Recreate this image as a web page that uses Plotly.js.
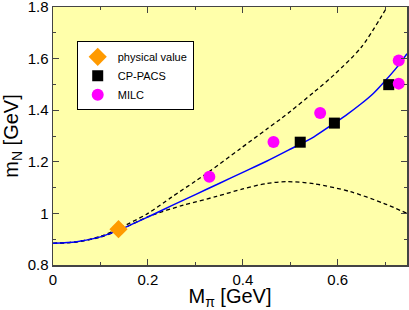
<!DOCTYPE html>
<html><head><meta charset="utf-8">
<script src="https://cdn.plot.ly/plotly-3.0.1.min.js"></script>
<style>html,body{margin:0;padding:0;background:#fff}#c{width:409px;height:310px}</style>
</head><body><div id="c"></div>
<script>
// data
const physX = [0.138];
const physY = [0.939];
const cppacsX = [0.521, 0.593, 0.7075];
const cppacsY = [1.276, 1.350, 1.499];
const milcX = [0.3295, 0.4646, 0.563, 0.7286, 0.7286];
const milcY = [1.142, 1.277, 1.389, 1.593, 1.503];
// fitted curve (solid blue)
const fitX = [0, 0.05, 0.1, 0.14, 0.2, 0.25, 0.3, 0.35, 0.4, 0.45, 0.496, 0.55, 0.593, 0.62, 0.648, 0.675, 0.70, 0.725, 0.746];
const fitY = [0.884, 0.890, 0.909, 0.936, 0.986, 1.030, 1.073, 1.116, 1.159, 1.202, 1.245, 1.297, 1.350, 1.384, 1.423, 1.465, 1.514, 1.567, 1.619];
// upper error band (dashed)
const upX = [0, 0.05, 0.1, 0.14, 0.2, 0.25, 0.3, 0.33, 0.394, 0.45, 0.479, 0.5, 0.55, 0.594, 0.65, 0.704];
const upY = [0.884, 0.890, 0.911, 0.943, 1.0, 1.063, 1.125, 1.163, 1.25, 1.326, 1.365, 1.395, 1.47, 1.54, 1.645, 1.8];
// lower error band (dashed)
const loX = [0, 0.05, 0.1, 0.14, 0.204, 0.275, 0.345, 0.4, 0.45, 0.493, 0.55, 0.627, 0.697, 0.746];
const loY = [0.884, 0.890, 0.908, 0.935, 0.99, 1.032, 1.066, 1.095, 1.116, 1.123, 1.115, 1.084, 1.039, 1.0];

const traces = [
  {x: upX, y: upY, mode: 'lines', line: {color: '#000', width: 1.3, dash: '4px,3px', shape: 'spline', smoothing: 0.8}, showlegend: false, hoverinfo: 'skip'},
  {x: loX, y: loY, mode: 'lines', line: {color: '#000', width: 1.3, dash: '4px,3px', shape: 'spline', smoothing: 0.8}, showlegend: false, hoverinfo: 'skip'},
  {x: fitX, y: fitY, mode: 'lines', line: {color: '#0000ff', width: 1.5, shape: 'spline', smoothing: 0.8}, showlegend: false, hoverinfo: 'skip'},
  {x: physX, y: physY, mode: 'markers', name: 'physical value', marker: {symbol: 'diamond', size: 14, color: '#ff9a00'}},
  {x: cppacsX, y: cppacsY, mode: 'markers', name: 'CP-PACS', marker: {symbol: 'square', size: 11, color: '#000'}},
  {x: milcX, y: milcY, mode: 'markers', name: 'MILC', marker: {symbol: 'circle', size: 12, color: '#ff00ff'}}
];

const axisCommon = {
  showline: true, linecolor: '#444', linewidth: 1.5, mirror: 'ticks',
  ticks: 'inside', ticklen: 6, tickcolor: '#444', tickwidth: 1,
  zeroline: false, ticklabeloverflow: 'allow',
  tickfont: {family: 'Liberation Sans, Arial, sans-serif', size: 15, color: '#000'},
  showgrid: false
};

const layout = {
  width: 409, height: 310,
  margin: {l: 53, r: 2, t: 7, b: 45},
  paper_bgcolor: '#ffffff',
  plot_bgcolor: '#ffffaa',
  font: {family: 'Liberation Sans, Arial, sans-serif', color: '#000'},
  xaxis: Object.assign({}, axisCommon, {
    range: [0, 0.746], tickvals: [0, 0.2, 0.4, 0.6], ticktext: ['0', '0.2', '0.4', '0.6'],
    minor: {dtick: 0.1, tick0: 0, ticks: 'inside', ticklen: 3, tickcolor: '#444'},
    title: {text: 'M<sub>π</sub> [GeV]', font: {size: 20}, standoff: 8}
  }),
  yaxis: Object.assign({}, axisCommon, {
    range: [0.8, 1.8], tickvals: [0.8, 1, 1.2, 1.4, 1.6, 1.8], ticktext: ['0.8', '1', '1.2', '1.4', '1.6', '1.8'],
    minor: {dtick: 0.1, tick0: 0.8, ticks: 'inside', ticklen: 3, tickcolor: '#444'},
    title: {text: 'm<sub>N</sub> [GeV]', font: {size: 20}, standoff: 4}
  }),
  legend: {
    x: 0.067, y: 0.867, xanchor: 'left', yanchor: 'top',
    bgcolor: '#ffffff', bordercolor: '#000', borderwidth: 1,
    font: {size: 11, family: 'Liberation Sans, Arial, sans-serif'},
    tracegroupgap: 0, itemwidth: 30
  },
  showlegend: true
};

Plotly.newPlot('c', traces, layout, {displayModeBar: false, staticPlot: true});
</script>
</body></html>
